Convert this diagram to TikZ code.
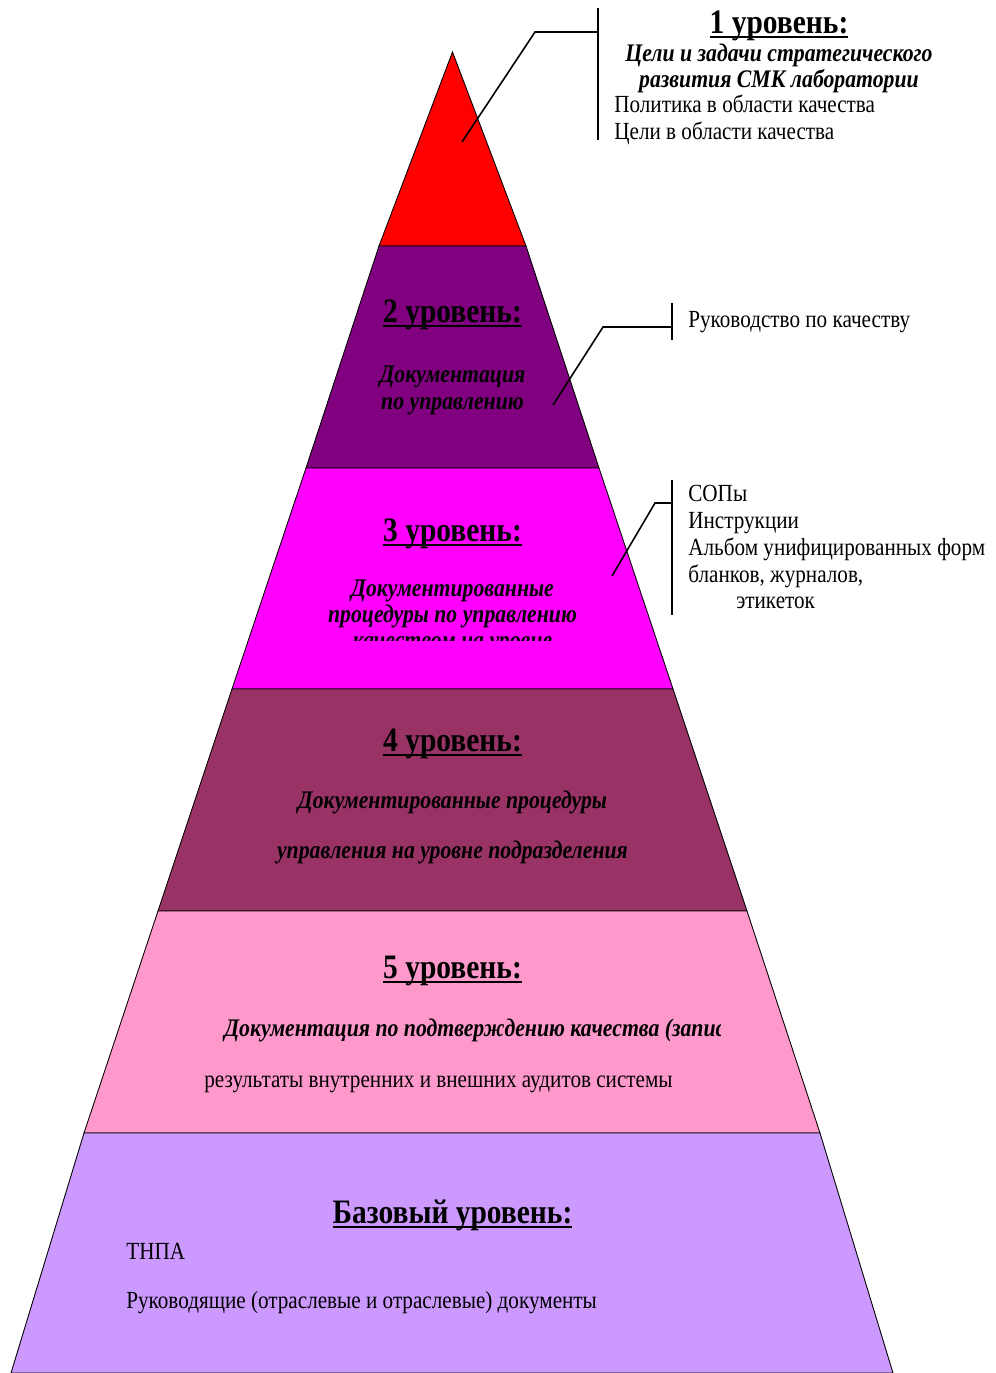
\documentclass[tikz,border=0pt]{standalone}
\usepackage{fontspec}
\setmainfont{Liberation Serif}[FakeStretch=0.86]
\usepackage{xcolor}
\usetikzlibrary{positioning}

\definecolor{tierone}{HTML}{FF0000}
\definecolor{tiertwo}{HTML}{800080}
\definecolor{tierthree}{HTML}{FF00FF}
\definecolor{tierfour}{HTML}{993366}
\definecolor{tierfive}{HTML}{FF99CC}
\definecolor{tierbase}{HTML}{CC99FF}

% heading underline, a bit heavier than \underline
\newcommand{\headul}[1]{\setbox0=\hbox{#1}\rlap{\rule[-2.6pt]{\wd0}{1.1pt}}\box0}

\begin{document}
\begin{tikzpicture}[
    x=0.02cm, y=-0.02cm,
    tier/.style={draw=black, line width=0.5pt},
    head/.style={font=\fontsize{19.5}{21}\selectfont\bfseries, anchor=base, inner sep=0pt},
    sub/.style={font=\fontsize{14.4}{15.5}\selectfont\bfseries\itshape, anchor=base, inner sep=0pt},
    txt/.style={font=\fontsize{14}{15}\selectfont, anchor=base west, inner sep=0pt},
    leader/.style={line width=0.9pt}
]
\useasboundingbox (0,0) rectangle (996,1373);

% Corners of the pyramid
\coordinate (apex) at (452.5,52);
\coordinate (l1) at (379,246);  \coordinate (r1) at (526,246);
\coordinate (l2) at (306,468);  \coordinate (r2) at (599,468);
\coordinate (l3) at (232,689);  \coordinate (r3) at (673,689);
\coordinate (l4) at (158,911);  \coordinate (r4) at (747,911);
\coordinate (l5) at (84,1133);  \coordinate (r5) at (820,1133);
\coordinate (l6) at (11,1373);  \coordinate (r6) at (893,1373);

% Tiers
\filldraw[tier, fill=tierone] (apex) -- (r1) -- (l1) -- cycle;
\filldraw[tier, fill=tiertwo] (l1) -- (r1) -- (r2) -- (l2) -- cycle;
\filldraw[tier, fill=tierthree] (l2) -- (r2) -- (r3) -- (l3) -- cycle;
\filldraw[tier, fill=tierfour] (l3) -- (r3) -- (r4) -- (l4) -- cycle;
\filldraw[tier, fill=tierfive] (l4) -- (r4) -- (r5) -- (l5) -- cycle;
\filldraw[tier, fill=tierbase] (l5) -- (r5) -- (r6) -- (l6) -- cycle;

% 1 level (outside)
\node[head] (h1) at (779,33) {\headul{1 уровень:}};
\node[sub] (s1a) at (779,61) {Цели и задачи стратегического};
\node[sub] (s1b) at (779,87) {развития СМК лаборатории};
\node[txt] (p1a) at (614,112) {Политика в области качества};
\node[txt] (p1b) at (614,139) {Цели в области качества};
\coordinate (bar1top) at (598,8);
\coordinate (bar1bot) at (598,140);
\coordinate (tip1) at (462,142);
\coordinate (knee1) at (535,32);
\coordinate (join1) at (598,32);
\draw[leader] (bar1top) -- (bar1bot);
\draw[leader] (tip1) -- (knee1) -- (join1);

% 2 level
\node[head] (h2) at (452.5,322) {\headul{2 уровень:}};
\node[sub] (s2a) at (452.5,382) {Документация};
\node[sub] (s2b) at (452.5,409) {по управлению};
\node[txt] (p2) at (688,327) {Руководство по качеству};
\coordinate (bar2top) at (672,303);
\coordinate (bar2bot) at (672,340);
\coordinate (tip2) at (553,405);
\coordinate (knee2) at (603,327);
\coordinate (join2) at (672,327);
\draw[leader] (bar2top) -- (bar2bot);
\draw[leader] (tip2) -- (knee2) -- (join2);

% 3 level
\node[head] (h3) at (452.5,541) {\headul{3 уровень:}};
\node[sub] (s3a) at (452.5,596) {Документированные};
\node[sub] (s3b) at (452.5,622) {процедуры по управлению};
\begin{scope}
  \clip (300,630) rectangle (620,640);
  \node[sub] (s3c) at (452.5,648) {качеством на уровне};
\end{scope}
\node[txt] (p3a) at (688,501) {СОПы};
\node[txt] (p3b) at (688,528) {Инструкции};
\node[txt] (p3c) at (688,555) {Альбом унифицированных форм};
\node[txt] (p3d) at (688,582) {бланков, журналов,};
\node[txt] (p3e) at (736,608) {этикеток};
\coordinate (bar3top) at (672,480);
\coordinate (bar3bot) at (672,615);
\coordinate (tip3) at (612,576);
\coordinate (knee3) at (655,503);
\coordinate (join3) at (672,503);
\draw[leader] (bar3top) -- (bar3bot);
\draw[leader] (tip3) -- (knee3) -- (join3);

% 4 level
\node[head] (h4) at (452.5,751) {\headul{4 уровень:}};
\node[sub] (s4a) at (452.5,808) {Документированные процедуры};
\node[sub] (s4b) at (452.5,858) {управления на уровне подразделения};

% 5 level
\node[head] (h5) at (452.5,978) {\headul{5 уровень:}};
\begin{scope}
  \clip (200,1005) rectangle (720,1050);
  \node[sub, anchor=base west] (s5) at (224,1036) {Документация по подтверждению качества (записи)};
\end{scope}
\node[txt] (p5) at (204,1087) {результаты внутренних и внешних аудитов системы};

% Base level
\node[head] (h6) at (452.5,1223) {\headul{Базовый уровень:}};
\node[txt] (p6a) at (126,1259) {ТНПА};
\node[txt] (p6b) at (126,1308) {Руководящие (отраслевые и отраслевые) документы};

\end{tikzpicture}
\end{document}
